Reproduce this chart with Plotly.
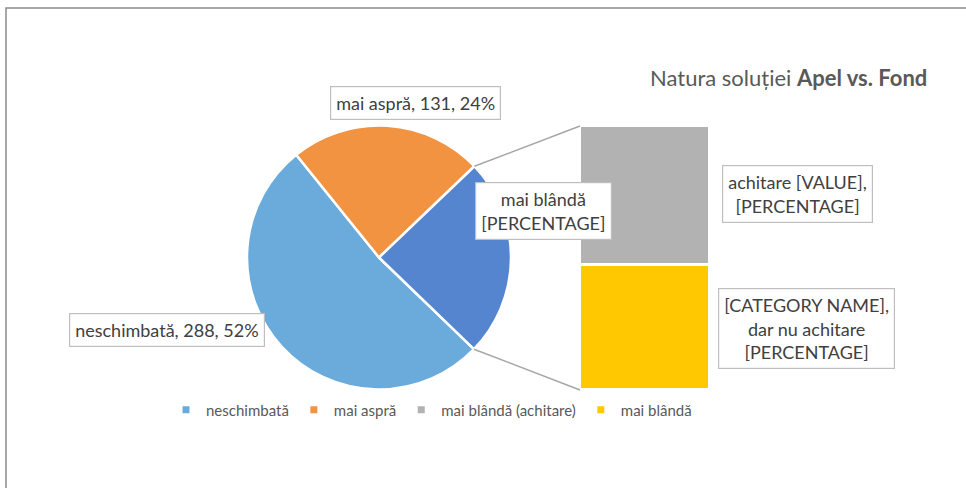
import math
import plotly.graph_objects as go

# ---------------- data ----------------
pie_labels = ["neschimbată", "mai aspră", "mai blândă"]
pie_values = [288, 131, 135]
bar_labels = ["mai blândă", "mai blândă (achitare)"]   # bottom -> top
bar_values = [64, 71]
legend_labels = ["neschimbată", "mai aspră", "mai blândă (achitare)", "mai blândă"]
title_plain = "Natura soluției "
title_bold = "Apel vs. Fond"

# ---------------- style ----------------
pie_colors = ["#6AABDB", "#F19340", "#5585CF"]
bar_colors = ["#FFC800", "#B2B2B2"]
legend_colors = ["#6AABDB", "#F19340", "#B2B2B2", "#FFC800"]
FONT = "Lato"
W, H = 966, 488

def px(x):
    return x / W

def py(y):
    return 1 - y / H

# pie geometry (pixels)
cx, cy, r = 379, 257.5, 132
rotation = 134  # start angle of first slice, clockwise from 12 o'clock

# bar geometry (pixels)
bx0, bx1, by0, by1 = 580, 710, 126, 390

fig = go.Figure()

fig.add_trace(go.Pie(
    labels=pie_labels, values=pie_values, sort=False, direction="clockwise",
    rotation=rotation, textinfo="none", hoverinfo="label+value+percent",
    marker=dict(colors=pie_colors, line=dict(color="white", width=2.5)),
    domain=dict(x=[px(cx - r), px(cx + r)], y=[py(cy + r), py(cy - r)]),
    showlegend=False,
))

for lab, val, col in zip(bar_labels, bar_values, bar_colors):
    fig.add_trace(go.Bar(
        x=[0], y=[val], name=lab, width=1,
        marker=dict(color=col, line=dict(color="white", width=3)),
        showlegend=False, xaxis="x", yaxis="y",
    ))

for lab, col in zip(legend_labels, legend_colors):
    fig.add_trace(go.Scatter(
        x=[None], y=[None], mode="markers", name=lab,
        marker=dict(symbol="square", size=7, color=col),
        xaxis="x2", yaxis="y2", showlegend=True,
    ))

total = sum(pie_values)
bar_total = sum(bar_values)

# connector lines from pie edge (boundaries of last slice) to bar corners
a_start = rotation + 360 * (pie_values[0] + pie_values[1]) / total
a_end = rotation + 360
def edge(a):
    t = math.radians(a)
    return cx + r * math.sin(t), cy - r * math.cos(t)

shapes = []
(x1, y1) = edge(a_start)
(x2, y2) = edge(a_end)
shapes.append(dict(type="line", xref="paper", yref="paper",
                   x0=px(x1), y0=py(y1), x1=px(bx0), y1=py(by0),
                   line=dict(color="#A6A6A6", width=1.5)))
shapes.append(dict(type="line", xref="paper", yref="paper",
                   x0=px(x2), y0=py(y2), x1=px(bx0), y1=py(by1),
                   line=dict(color="#A6A6A6", width=1.5)))
# chart frame
shapes.append(dict(type="rect", xref="paper", yref="paper",
                   x0=px(6), y0=py(8), x1=px(980), y1=py(500),
                   line=dict(color="#8C8C8C", width=1.5), layer="below"))

lab_font = dict(family=FONT, size=18, color="#404040")
def box(text, x, y):
    return dict(text=text, x=px(x), y=py(y), xref="paper", yref="paper",
                xanchor="center", yanchor="middle",
                showarrow=False, font=lab_font, bgcolor="white",
                bordercolor="#BFBFBF", borderwidth=1.2, borderpad=5, align="center")

pct = [round(100 * v / total) for v in pie_values]
annotations = [
    box(f"{pie_labels[0]}, {pie_values[0]}, {pct[0]}%", 167, 330),
    box(f"{pie_labels[1]}, {pie_values[1]}, {pct[1]}%", 415, 103),
    box(f"{pie_labels[2]}<br>[PERCENTAGE]", 543, 211),
    box("achitare [VALUE],<br>[PERCENTAGE]", 797, 194),
    box("[CATEGORY NAME],<br>dar nu achitare<br>[PERCENTAGE]", 806, 328),
    dict(text=f"{title_plain}<b>{title_bold}</b>", x=px(929), y=py(77),
         xref="paper", yref="paper", xanchor="right", yanchor="middle",
         showarrow=False, font=dict(family=FONT, size=22, color="#595959")),
]

fig.update_layout(
    width=W, height=H, margin=dict(l=0, r=0, t=0, b=0),
    paper_bgcolor="white", plot_bgcolor="white",
    barmode="stack", bargap=0,
    xaxis=dict(domain=[px(bx0), px(bx1)], range=[-0.5, 0.5], visible=False, fixedrange=True),
    yaxis=dict(domain=[py(by1), py(by0)], range=[0, bar_total], visible=False, fixedrange=True),
    xaxis2=dict(domain=[0, 0.01], visible=False, anchor="y2"),
    yaxis2=dict(domain=[0, 0.01], visible=False, anchor="x2"),
    legend=dict(orientation="h", x=px(166), y=py(410), xanchor="left", yanchor="middle",
                font=dict(family=FONT, size=15, color="#595959"), traceorder="normal",
                itemwidth=30, bgcolor="rgba(0,0,0,0)", tracegroupgap=0),
    shapes=shapes, annotations=annotations,
    showlegend=True,
)

fig.write_html("out.html", config={"displayModeBar": False},
               post_script="document.body.style.margin='0';")
